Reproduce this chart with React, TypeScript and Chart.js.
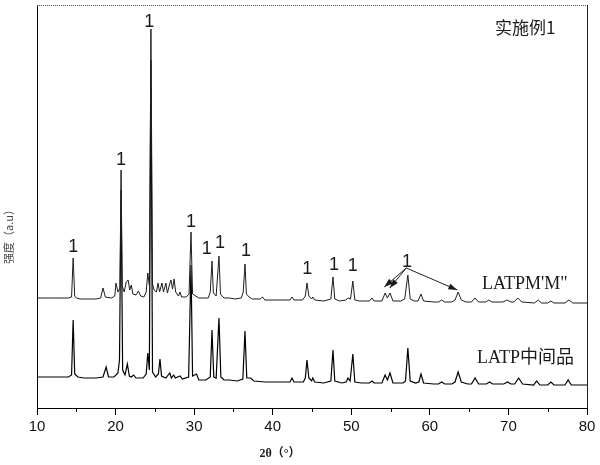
import { useEffect, useRef } from "react";
import { Chart, registerables } from "chart.js";

Chart.register(...registerables);

// 2θ (degrees) and intensity (a.u.)
const topTheta = [
  10.0, 12.0, 14.0, 14.4, 14.6, 14.8, 15.0, 15.5, 16.5, 17.5, 18.1, 18.4, 18.7, 19.5, 19.9, 20.05, 20.3, 20.55, 20.7, 20.85,
  21.1, 21.35, 21.6, 21.8, 22.0, 22.2, 22.6, 22.9, 23.2, 23.6, 23.9, 24.1, 24.3, 24.5, 24.7, 24.9, 25.2, 25.4, 25.6, 25.9,
  26.1, 26.4, 26.6, 26.85, 27.05, 27.25, 27.45, 27.65, 28.0, 28.2, 28.4, 29.0, 29.35, 29.6, 29.8, 30.2, 30.6, 31.2, 31.8, 32.05,
  32.27, 32.45, 32.8, 33.16, 33.35, 33.8, 34.5, 35.2, 36.0, 36.25, 36.47, 36.65, 37.0, 37.4, 38.4, 38.7, 39.0, 40.5, 41.5, 42.2,
  42.45, 42.7, 43.8, 44.15, 44.36, 44.6, 44.95, 45.1, 45.35, 46.5, 47.4, 47.67, 47.9, 48.5, 49.3, 49.58, 49.9, 50.2, 50.45, 51.0,
  52.3, 52.64, 52.9, 53.9, 54.3, 54.6, 54.93, 55.3, 56.3, 56.8, 57.2, 57.5, 58.0, 58.5, 58.87, 59.2, 60.5, 61.1, 61.5, 61.9,
  62.8, 63.2, 63.6, 64.0, 64.6, 65.3, 65.75, 66.2, 67.1, 67.5, 67.9, 69.3, 69.8, 70.3, 70.7, 71.2, 71.7, 73.3, 73.8, 74.2,
  75.0, 75.4, 75.8, 77.2, 77.7, 78.2, 80.0,
];
const topIntensity = [
  112, 112, 112, 113, 152, 114, 112, 111, 111, 111, 112, 122, 113, 112, 114, 127, 118, 122, 240, 124,
  118, 128, 130, 120, 125, 116, 115, 119, 114, 113, 118, 137, 125, 381, 126, 120, 118, 127, 118, 127,
  118, 127, 117, 125, 130, 121, 131, 118, 114, 118, 113, 113, 116, 178, 116, 114, 112, 112, 112, 118,
  149, 117, 114, 154, 116, 112, 112, 111, 112, 118, 146, 116, 113, 111, 111, 113, 110, 110, 110, 110,
  113, 110, 110, 114, 127, 114, 111, 113, 110, 109, 111, 133, 111, 109, 110, 112, 111, 129, 110, 109,
  109, 112, 109, 109, 117, 112, 117, 109, 109, 111, 135, 111, 109, 109, 116, 109, 108, 108, 110, 108,
  108, 110, 118, 110, 108, 108, 112, 108, 108, 110, 108, 108, 110, 108, 108, 112, 108, 107, 110, 107,
  107, 109, 107, 107, 110, 107, 107,
];

const bottomTheta = [
  10.0, 12.0, 14.0, 14.4, 14.6, 14.8, 15.2, 16.0, 17.5, 18.4, 18.8, 19.1, 19.8, 20.3, 20.5, 20.7, 20.9, 21.2, 21.5, 21.75,
  22.0, 22.3, 22.6, 23.5, 23.9, 24.1, 24.3, 24.5, 24.7, 25.1, 25.45, 25.65, 25.85, 26.4, 26.9, 27.1, 27.4, 27.6, 28.2, 28.5,
  29.3, 29.6, 29.8, 30.3, 30.6, 31.5, 32.05, 32.27, 32.5, 32.8, 33.16, 33.4, 33.8, 34.5, 35.5, 36.2, 36.47, 36.7, 37.2, 37.6,
  39.0, 40.5, 42.2, 42.45, 42.7, 43.9, 44.15, 44.36, 44.6, 44.95, 45.1, 45.35, 46.5, 47.4, 47.67, 47.9, 48.8, 49.35, 49.58, 49.85,
  50.2, 50.45, 51.3, 52.3, 52.64, 52.9, 53.9, 54.3, 54.6, 54.93, 55.3, 56.6, 56.9, 57.2, 57.5, 58.2, 58.6, 58.87, 59.2, 60.5,
  61.1, 61.5, 61.9, 62.8, 63.2, 63.6, 64.0, 64.8, 65.3, 65.75, 66.2, 67.2, 67.6, 68.0, 69.4, 69.9, 70.3, 70.8, 71.3, 71.8,
  73.2, 73.6, 74.0, 75.0, 75.4, 75.8, 77.2, 77.6, 78.0, 80.0,
];
const bottomIntensity = [
  33, 33, 33, 35, 90, 36, 33, 32, 32, 33, 43, 33, 33, 37, 50, 220, 40, 35, 46, 34,
  33, 35, 32, 32, 36, 57, 40, 350, 38, 33, 36, 51, 34, 32, 37, 32, 35, 32, 34, 31,
  33, 145, 34, 36, 30, 30, 33, 80, 33, 32, 92, 33, 30, 30, 29, 31, 79, 32, 32, 29,
  28, 28, 28, 32, 28, 28, 32, 50, 32, 29, 32, 28, 27, 29, 60, 29, 27, 28, 32, 29,
  56, 28, 27, 27, 29, 27, 27, 35, 30, 37, 27, 27, 29, 62, 29, 27, 28, 36, 27, 26,
  26, 28, 26, 26, 28, 38, 28, 26, 26, 32, 26, 26, 28, 26, 26, 28, 26, 26, 32, 26,
  25, 29, 25, 25, 28, 25, 25, 30, 25, 25,
];

const majorTicks = [10, 20, 30, 40, 50, 60, 70, 80];
const minorTicks = [15, 25, 35, 45, 55, 65, 75];
const seriesNames = ["LATPM'M\"", "LATP中间品"];
const sampleTitle = "实施例1";
const xTitle = "2θ（°）";
const yTitle = "强度（a.u）";

// "1" peak marks (2θ, intensity of the label centre)
const markTheta = [14.6, 20.7, 24.3, 29.6, 31.6, 33.3, 36.6, 44.4, 47.8, 50.2, 57.1];
const markIntensity = [163, 250, 388, 188, 161, 167, 159, 141, 145, 144, 148];
// arrows from the last mark to the peaks it points at
const arrowStart = [57.0, 142];
const arrowEndTheta = [54.2, 54.9, 63.5];
const arrowEndIntensity = [123, 122, 120];

const toPoints = (xs: number[], ys: number[]) => xs.map((x, i) => ({ x, y: ys[i] }));

export default function App() {
  const ref = useRef<HTMLCanvasElement | null>(null);

  useEffect(() => {
    document.body.style.margin = "0";
    const canvas = ref.current;
    if (!canvas) return;

    const overlay = {
      id: "overlay",
      afterDraw(chart: any) {
        const { ctx, chartArea } = chart;
        const xs = chart.scales.x;
        const ys = chart.scales.y;
        ctx.save();
        // top border (dotted) and right border
        ctx.strokeStyle = "#555";
        ctx.lineWidth = 1;
        ctx.setLineDash([1, 1]);
        ctx.beginPath();
        ctx.moveTo(chartArea.left, chartArea.top + 0.5);
        ctx.lineTo(chartArea.right, chartArea.top + 0.5);
        ctx.stroke();
        ctx.setLineDash([]);
        ctx.strokeStyle = "#222";
        ctx.beginPath();
        ctx.moveTo(Math.round(chartArea.right) + 0.5, chartArea.top);
        ctx.lineTo(Math.round(chartArea.right) + 0.5, chartArea.bottom);
        ctx.stroke();
        // minor ticks
        ctx.strokeStyle = "#000";
        minorTicks.forEach((v) => {
          const px = Math.round(xs.getPixelForValue(v)) + 0.5;
          ctx.beginPath();
          ctx.moveTo(px, chartArea.bottom);
          ctx.lineTo(px, chartArea.bottom + 4);
          ctx.stroke();
        });
        // peak marks
        ctx.fillStyle = "#1a1a1a";
        ctx.font = "18px 'Liberation Sans', Arial, sans-serif";
        ctx.textAlign = "center";
        ctx.textBaseline = "middle";
        markTheta.forEach((t, i) => {
          ctx.fillText("1", xs.getPixelForValue(t), ys.getPixelForValue(markIntensity[i]));
        });
        // arrows
        const sx = xs.getPixelForValue(arrowStart[0]);
        const sy = ys.getPixelForValue(arrowStart[1]);
        ctx.strokeStyle = "#222";
        arrowEndTheta.forEach((t, i) => {
          const ex = xs.getPixelForValue(t);
          const ey = ys.getPixelForValue(arrowEndIntensity[i]);
          const ang = Math.atan2(ey - sy, ex - sx);
          ctx.beginPath();
          ctx.moveTo(sx, sy);
          ctx.lineTo(ex, ey);
          ctx.stroke();
          const hl = 9;
          const hw = 3;
          ctx.beginPath();
          ctx.moveTo(ex, ey);
          ctx.lineTo(ex - hl * Math.cos(ang) + hw * Math.sin(ang), ey - hl * Math.sin(ang) - hw * Math.cos(ang));
          ctx.lineTo(ex - hl * Math.cos(ang) - hw * Math.sin(ang), ey - hl * Math.sin(ang) + hw * Math.cos(ang));
          ctx.closePath();
          ctx.fill();
        });
        // texts
        ctx.textAlign = "left";
        ctx.font = "17px 'Noto Sans CJK SC', sans-serif";
        ctx.fillText(sampleTitle, 495, 28);
        ctx.font = "18px 'Liberation Serif', 'Noto Sans CJK SC', serif";
        ctx.fillText(seriesNames[0], 482, 284);
        ctx.fillText(seriesNames[1], 477, 358);
        // x title
        ctx.textAlign = "center";
        ctx.font = "bold 12px 'Liberation Serif', 'Noto Sans CJK SC', serif";
        ctx.fillText(xTitle, 280, 454);
        // y title
        ctx.translate(9, 234);
        ctx.rotate(-Math.PI / 2);
        ctx.fillStyle = "#444";
        ctx.font = "11px 'Noto Sans CJK SC', sans-serif";
        ctx.fillText(yTitle, 0, 0);
        ctx.restore();
      },
    };

    const chart = new Chart(canvas, {
      type: "line",
      data: {
        datasets: [
          {
            label: seriesNames[0],
            data: toPoints(topTheta, topIntensity),
            borderColor: "#1e1e1e",
            borderWidth: 1,
            pointRadius: 0,
            tension: 0,
          },
          {
            label: seriesNames[1],
            data: toPoints(bottomTheta, bottomIntensity),
            borderColor: "#000",
            borderWidth: 1.2,
            pointRadius: 0,
            tension: 0,
          },
        ],
      },
      options: {
        animation: false,
        responsive: false,
        layout: { padding: { left: 0, right: 13, top: 5, bottom: 0 } },
        plugins: { legend: { display: false }, tooltip: { enabled: false } },
        scales: {
          x: {
            type: "linear",
            min: 10,
            max: 80,
            afterBuildTicks: (s: any) => {
              s.ticks = majorTicks.map((v) => ({ value: v }));
            },
            afterFit: (s: any) => {
              s.height = 57;
            },
            ticks: {
              color: "#111",
              font: { family: "'Liberation Sans', Arial, sans-serif", size: 15 },
              padding: 3,
              maxRotation: 0,
            },
            grid: { display: true, drawOnChartArea: false, drawTicks: true, tickLength: 7, color: "#000" },
            border: { display: true, color: "#000", width: 1 },
          },
          y: {
            type: "linear",
            min: 2,
            max: 405,
            afterFit: (s: any) => {
              s.width = 37;
            },
            ticks: { display: false },
            grid: { display: false },
            border: { display: true, color: "#000", width: 1 },
          },
        },
      },
      plugins: [overlay],
    });

    return () => chart.destroy();
  }, []);

  return <canvas ref={ref} width={600} height={465} style={{ display: "block" }} />;
}
